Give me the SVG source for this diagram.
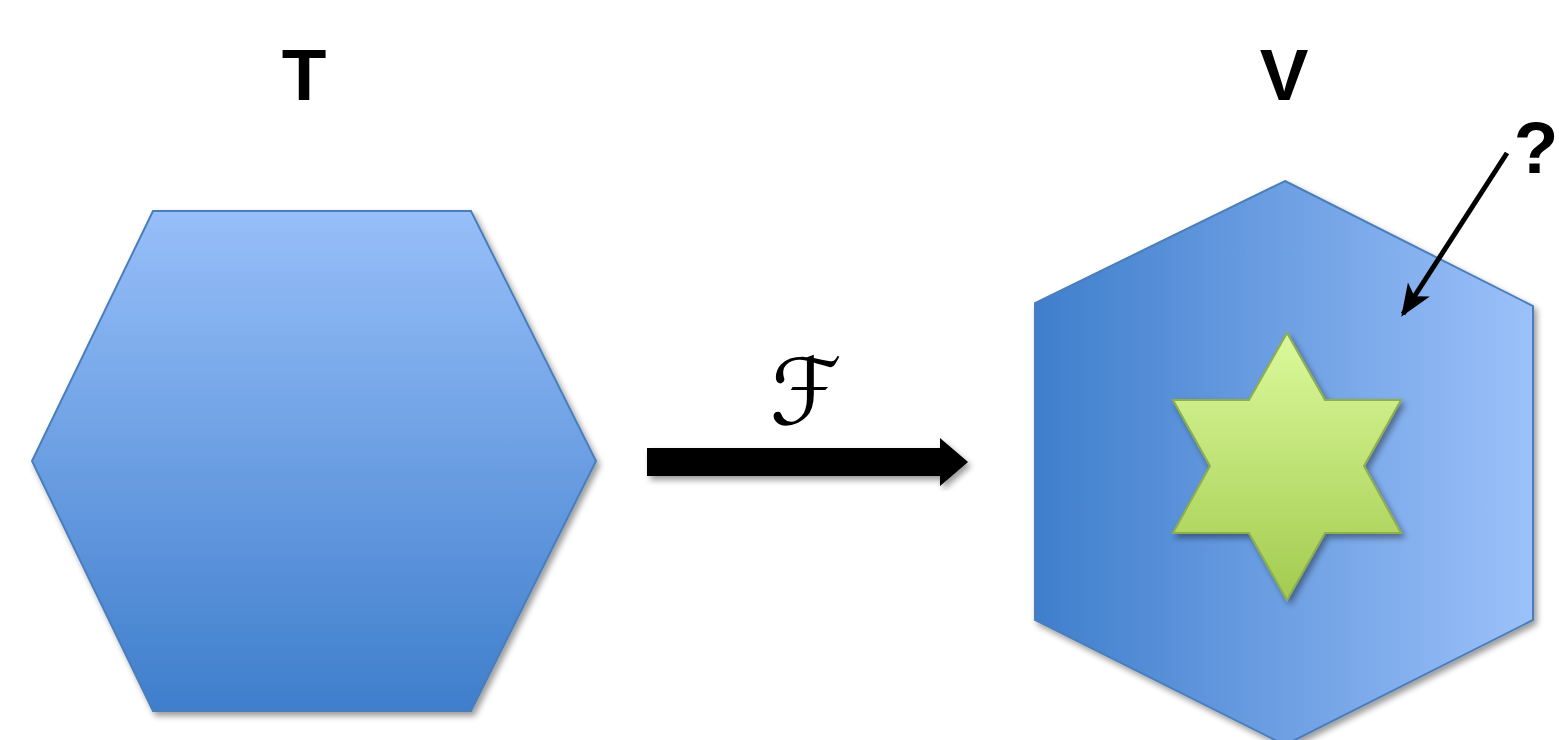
<svg xmlns="http://www.w3.org/2000/svg" width="1559" height="740" viewBox="0 0 1559 740">
<style>
.lbl{font-family:"Liberation Sans",Arial,sans-serif;font-weight:bold;font-size:73px;fill:#000;text-anchor:middle}
.hex{stroke:#4a7ebb;stroke-width:2}
.star{stroke:#8fb04a;stroke-width:2}
</style>
<defs>
<linearGradient id="gT" x1="0" y1="0" x2="0" y2="1">
<stop offset="0" stop-color="#97bff9"/>
<stop offset="1" stop-color="#3f7ecc"/>
</linearGradient>
<linearGradient id="gV" x1="0" y1="0" x2="1" y2="0">
<stop offset="0" stop-color="#3f7ecc"/>
<stop offset="1" stop-color="#9cc1fa"/>
</linearGradient>
<linearGradient id="gS" x1="0" y1="0" x2="0" y2="1">
<stop offset="0" stop-color="#dbf99b"/>
<stop offset="1" stop-color="#a3cb4f"/>
</linearGradient>
<filter id="sh" x="-10%" y="-10%" width="120%" height="120%">
<feGaussianBlur in="SourceAlpha" stdDeviation="3"/>
<feOffset dx="3" dy="4" result="b"/>
<feComponentTransfer><feFuncA type="linear" slope="0.4"/></feComponentTransfer>
<feMerge><feMergeNode/><feMergeNode in="SourceGraphic"/></feMerge>
</filter>
<marker id="ah" viewBox="0 0 10 10" refX="9" refY="5" markerWidth="6.5" markerHeight="6.5" orient="auto" markerUnits="strokeWidth">
<path d="M0,1 L10,5 L0,9 L2.5,5 Z" fill="#000"/>
</marker>
</defs>
<rect width="1559" height="740" fill="#fff"/>
<g id="nodeT">
<polygon class="hex" filter="url(#sh)" fill="url(#gT)" points="153,211 471,211 596,461 471,711 153,711 32,461"/>
<text class="lbl" x="304" y="100">T</text>
</g>
<g id="nodeV">
<polygon class="hex" filter="url(#sh)" fill="url(#gV)" points="1285,181 1533,306 1533,620 1285,745 1035,620 1035,303"/>
<polygon class="star" filter="url(#sh)" fill="url(#gS)" points="1287,333 1325,400 1401,400 1364,466 1401,533 1325,533 1287,600 1249,533 1173,533 1210,466 1173,400 1249,400"/>
<text class="lbl" x="1284" y="100">V</text>
</g>
<g id="nodeQ">
<text class="lbl" x="1536" y="173" font-size="70">?</text>
</g>
<g id="connectors">
<g id="edgeF" filter="url(#sh)">
<polygon fill="#000" points="647,448 940,448 940,438 968,462 940,486 940,476 647,476"/>
</g>
<text x="806" y="424" font-family="DejaVu Serif,DejaVu Sans,serif" font-style="italic" font-size="92" text-anchor="middle" fill="#000">ℱ</text>
<line x1="1507" y1="153" x2="1403" y2="314" stroke="#000" stroke-width="5" marker-end="url(#ah)"/>
</g>
</svg>
